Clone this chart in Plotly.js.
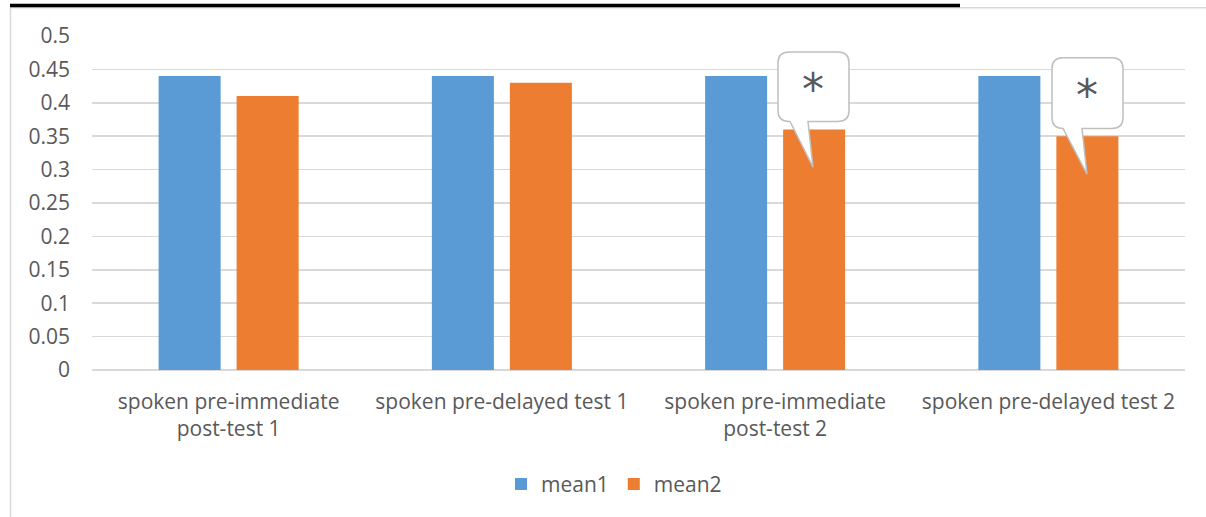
<!DOCTYPE html>
<html>
<head>
<meta charset="utf-8">
<script src="https://cdn.plot.ly/plotly-3.0.1.min.js"></script>
<style>html,body{margin:0;padding:0;background:#fff;}#chart{width:1206px;height:517px;}</style>
</head>
<body>
<div id="chart"></div>
<script>
const categories = ["spoken pre-immediate<br>post-test 1", "spoken pre-delayed test 1", "spoken pre-immediate<br>post-test 2", "spoken pre-delayed test 2"];
const mean1 = [0.44, 0.44, 0.44, 0.44];
const mean2 = [0.41, 0.43, 0.36, 0.35];
const yTicks = [0, 0.05, 0.1, 0.15, 0.2, 0.25, 0.3, 0.35, 0.4, 0.45, 0.5];
const yTickText = ["0", "0.05", "0.1", "0.15", "0.2", "0.25", "0.3", "0.35", "0.4", "0.45", "0.5"];

const W = 1206, H = 517;
const M = {l: 92, r: 21, t: 36, b: 145};
const pw = W - M.l - M.r, ph = H - M.t - M.b;
const px = x => (x - M.l) / pw;
const py = y => (H - M.b - y) / ph;
const P = (x, y) => px(x).toFixed(5) + "," + py(y).toFixed(5);

function bubble(x0, y0, x1, y1, r, tb1, tb2, tx, ty) {
  return "M" + P(x0 + r, y0) + " L" + P(x1 - r, y0) + " Q" + P(x1, y0) + " " + P(x1, y0 + r) +
    " L" + P(x1, y1 - r) + " Q" + P(x1, y1) + " " + P(x1 - r, y1) +
    " L" + P(tb2, y1) + " L" + P(tx, ty) + " L" + P(tb1, y1) +
    " L" + P(x0 + r, y1) + " Q" + P(x0, y1) + " " + P(x0, y1 - r) +
    " L" + P(x0, y0 + r) + " Q" + P(x0, y0) + " " + P(x0 + r, y0) + " Z";
}

const font = "Open Sans, Lato, sans-serif";
const grey = "#595959";
const fs = 21;

const data = [
  {type: "bar", name: "mean1", x: categories, y: mean1, marker: {color: "#5B9BD5"}, hoverinfo: "none"},
  {type: "bar", name: "mean2", x: categories, y: mean2, marker: {color: "#ED7D31"}, hoverinfo: "none"}
];

const layout = {
  width: W, height: H,
  margin: M,
  paper_bgcolor: "#fff", plot_bgcolor: "#fff",
  barmode: "group", bargap: 0.429, bargroupgap: 0.205,
  font: {family: font, color: grey, size: fs},
  xaxis: {type: "category", showgrid: false, zeroline: false, showline: false, ticks: "",
    tickfont: {family: font, size: fs, color: grey}, ticklabelstandoff: 17, fixedrange: true},
  yaxis: {range: [0, 0.5], tickvals: yTicks, ticktext: yTickText, showgrid: true, gridcolor: "#d9d9d9", gridwidth: 1.6,
    zeroline: true, zerolinecolor: "#d9d9d9", zerolinewidth: 1.6, showline: false, ticks: "",
    tickfont: {family: font, size: fs, color: grey}, ticklabelstandoff: 21, fixedrange: true},
  showlegend: true,
  legend: {orientation: "h", x: px(614), xanchor: "center", y: py(487), yanchor: "middle",
    font: {family: font, size: fs, color: grey}, itemwidth: 30, traceorder: "normal"},
  shapes: [
    {type: "rect", xref: "paper", yref: "paper", x0: px(10.5), x1: px(1215), y0: py(7.5), y1: py(530),
      line: {color: "#d9d9d9", width: 1.5}, fillcolor: "rgba(0,0,0,0)", layer: "below"},
    {type: "rect", xref: "paper", yref: "paper", x0: px(10), x1: px(960), y0: py(3.5), y1: py(7),
      line: {width: 0}, fillcolor: "#000"},
    {type: "path", xref: "paper", yref: "paper", path: bubble(778, 52, 849, 122, 11, 790, 808, 813, 168),
      fillcolor: "#fff", line: {color: "#bfbfbf", width: 1.5}},
    {type: "path", xref: "paper", yref: "paper", path: bubble(1052, 58, 1123, 129, 11, 1063, 1082, 1087, 175),
      fillcolor: "#fff", line: {color: "#bfbfbf", width: 1.5}}
  ],
  annotations: [
    {xref: "paper", yref: "paper", x: px(813), y: py(90), text: "*", showarrow: false,
      font: {family: "DejaVu Sans", size: 44, color: grey}, xanchor: "center", yanchor: "middle"},
    {xref: "paper", yref: "paper", x: px(1087), y: py(96), text: "*", showarrow: false,
      font: {family: "DejaVu Sans", size: 44, color: grey}, xanchor: "center", yanchor: "middle"}
  ]
};

Plotly.newPlot("chart", data, layout, {displayModeBar: false, staticPlot: true});
</script>
</body>
</html>
